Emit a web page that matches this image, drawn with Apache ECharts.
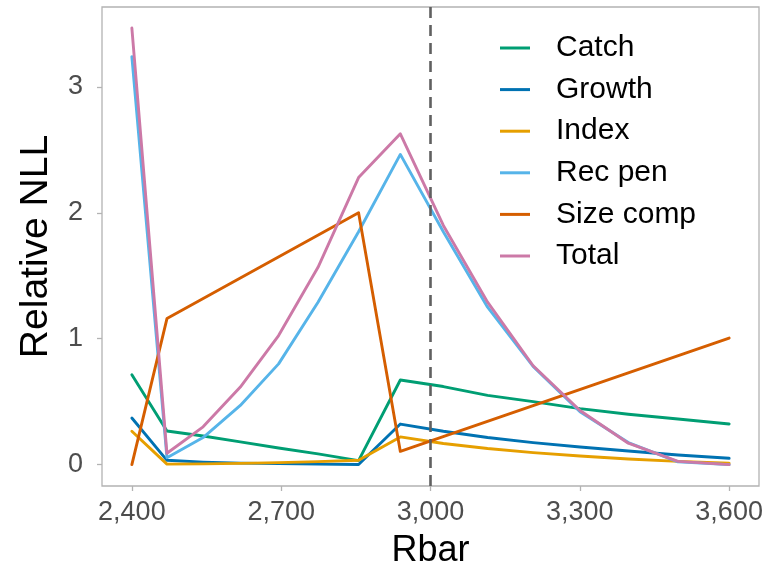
<!DOCTYPE html>
<html>
<head>
<meta charset="utf-8">
<script src="https://cdn.jsdelivr.net/npm/echarts@6/dist/echarts.min.js"></script>
<style>
  html, body { margin: 0; padding: 0; background: #fff; }
  #chart { width: 769px; height: 576px; }
</style>
</head>
<body>
<div id="chart"></div>
<script>
// Rbar values of the likelihood profile
const rbar = [2400, 2470.5, 2543.1, 2617.9, 2694.8, 2774.0, 2855.5, 2939.4, 3025.8, 3114.7, 3206.2, 3300.4, 3397.4, 3497.3, 3600];
// Size comp is only evaluated at these Rbar values
const sizeRbar = [2400, 2470.5, 2855.5, 2939.4, 3600];

// Relative negative log-likelihood by component
const catchNll  = [0.713, 0.267, 0.227, 0.18, 0.132, 0.085, 0.032, 0.672, 0.62, 0.55, 0.50, 0.445, 0.40, 0.362, 0.323];
const growthNll = [0.37, 0.034, 0.02, 0.012, 0.008, 0.004, 0.001, 0.322, 0.265, 0.215, 0.175, 0.14, 0.108, 0.076, 0.05];
const indexNll  = [0.265, 0.004, 0.006, 0.01, 0.016, 0.024, 0.034, 0.22, 0.168, 0.128, 0.095, 0.068, 0.045, 0.026, 0.012];
const recPenNll = [3.24, 0.055, 0.215, 0.47, 0.80, 1.29, 1.85, 2.464, 1.85, 1.25, 0.78, 0.42, 0.175, 0.022, 0.0];
const sizeNll   = [0.0, 1.16, 2.0, 0.105, 1.005];
const totalNll  = [3.468, 0.09, 0.30, 0.616, 1.025, 1.567, 2.28, 2.628, 1.90, 1.29, 0.785, 0.43, 0.17, 0.026, 0.0];

const seriesNames = ['Catch', 'Growth', 'Index', 'Rec pen', 'Size comp', 'Total'];
const seriesColors = ['#009E73', '#0072B2', '#E69F00', '#56B4E9', '#D55E00', '#CC79A7'];

// Axis ticks and reference value
const xTicks = [2400, 2700, 3000, 3300, 3600];
const yTicks = [0, 1, 2, 3];
const refRbar = 3000;

function pairs(xs, ys) { return xs.map((x, i) => [x, ys[i]]); }

const seriesData = [
  pairs(rbar, catchNll),
  pairs(rbar, growthNll),
  pairs(rbar, indexNll),
  pairs(rbar, recPenNll),
  pairs(sizeRbar, sizeNll),
  pairs(rbar, totalNll)
];

const FONT = '"Liberation Sans", Arial, Helvetica, sans-serif';
const chart = echarts.init(document.getElementById('chart'), null, { renderer: 'canvas' });

const series = seriesNames.map((name, i) => ({
  name: name,
  type: 'line',
  data: seriesData[i],
  showSymbol: false,
  symbol: 'none',
  z: 3,
  lineStyle: { color: seriesColors[i], width: 2.9, cap: 'round', join: 'round' },
  itemStyle: { color: seriesColors[i] },
  animation: false
}));

// dashed reference line at Rbar = 3000
series.push({
  type: 'line',
  data: [],
  z: 2,
  markLine: {
    silent: true,
    symbol: ['none', 'none'],
    label: { show: false },
    lineStyle: { color: '#606060', width: 2.6, type: [11, 7] },
    data: [{ xAxis: refRbar }]
  },
  animation: false
});

chart.setOption({
  backgroundColor: '#ffffff',
  animation: false,
  grid: {
    left: 102, right: 10, top: 7, bottom: 90,
    show: true, borderColor: '#B3B3B3', borderWidth: 1.3, backgroundColor: '#ffffff'
  },
  legend: {
    orient: 'vertical',
    left: 500, top: 30,
    padding: 0,
    itemWidth: 30, itemHeight: 3,
    itemGap: 5.6,
    icon: 'rect',
    data: seriesNames,
    textStyle: {
      fontFamily: FONT, fontSize: 30, color: '#000000',
      lineHeight: 36, padding: [0, 0, 0, 21]
    }
  },
  xAxis: {
    type: 'value',
    min: 2340, max: 3660,
    name: 'Rbar',
    nameLocation: 'middle',
    nameGap: 47,
    nameTextStyle: { fontFamily: FONT, fontSize: 36, color: '#000000' },
    axisLine: { show: false, onZero: false },
    splitLine: { show: false },
    axisTick: { show: true, customValues: xTicks, length: 5, lineStyle: { color: '#B3B3B3', width: 1.3 } },
    axisLabel: {
      customValues: xTicks, margin: 13,
      fontFamily: FONT, fontSize: 27, color: '#4D4D4D',
      formatter: v => Number(v).toLocaleString('en-US')
    }
  },
  yAxis: {
    type: 'value',
    min: -0.17, max: 3.635,
    name: 'Relative NLL',
    nameLocation: 'middle',
    nameGap: 46,
    nameRotate: 90,
    nameTextStyle: { fontFamily: FONT, fontSize: 39, color: '#000000' },
    axisLine: { show: false, onZero: false },
    splitLine: { show: false },
    axisTick: { show: true, customValues: yTicks, length: 5, lineStyle: { color: '#B3B3B3', width: 1.3 } },
    axisLabel: {
      customValues: yTicks, margin: 19,
      fontFamily: FONT, fontSize: 27, color: '#4D4D4D'
    }
  },
  series: series
});
</script>
</body>
</html>
